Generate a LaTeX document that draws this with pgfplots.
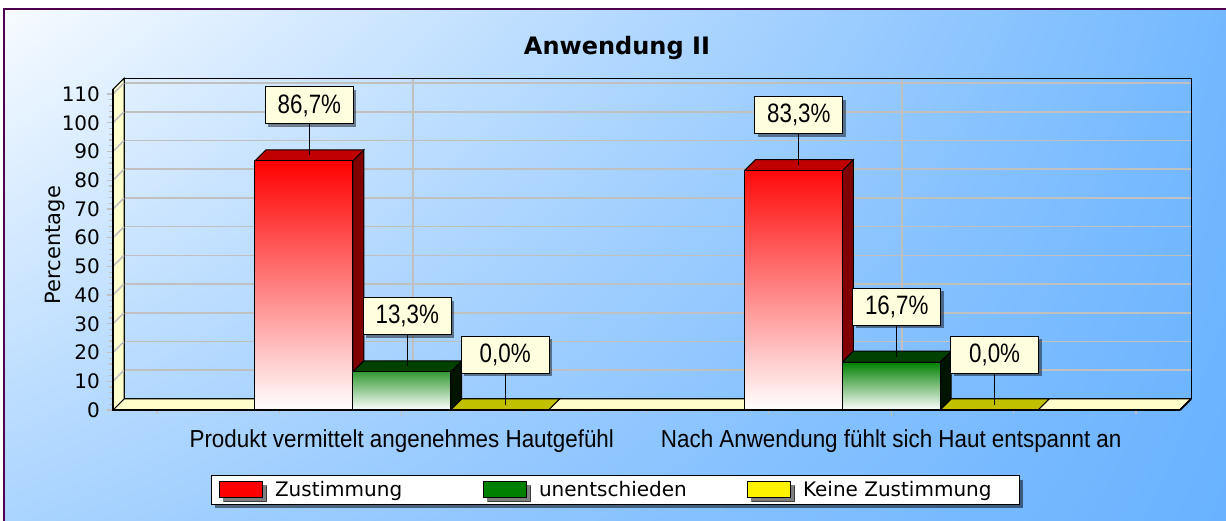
\documentclass[border=0pt]{standalone}
\usepackage{fontspec}
\setmainfont{DejaVu Sans}
\newfontfamily\narrowfont[FakeStretch=0.84]{Liberation Sans}
\newfontfamily\catfont[FakeStretch=0.91]{Liberation Sans}
\usepackage{pgfplots}
\pgfplotsset{compat=1.18}
\usetikzlibrary{shadows,shadings}

\definecolor{redtop}{RGB}{192,0,0}
\definecolor{redside}{RGB}{128,0,0}
\definecolor{greenfront}{RGB}{0,128,0}
\definecolor{greentop}{RGB}{0,64,0}
\definecolor{greenside}{RGB}{0,20,0}
\definecolor{yellowtop}{RGB}{192,192,0}
\definecolor{wallyellow}{RGB}{255,255,204}
\definecolor{labelfill}{RGB}{255,255,224}
\definecolor{gridgray}{RGB}{192,192,192}
\definecolor{framecol}{RGB}{80,0,80}
\definecolor{bgTL}{RGB}{247,251,255}
\definecolor{bgTR}{RGB}{115,184,255}
\definecolor{bgBL}{RGB}{170,212,255}
\definecolor{bgBR}{RGB}{105,178,255}

\begin{document}
\begin{tikzpicture}
\useasboundingbox (0,0) rectangle (613pt,260pt);
\fill[white] (0,0) rectangle (613pt,260pt);
\shade[upper left=bgTL, upper right=bgTR, lower left=bgBL, lower right=bgBR]
  (2pt,0pt) rectangle (613pt,255.5pt);
\draw[framecol, line width=0.6pt] (2pt,-5pt) -- (2pt,255.5pt) -- (620pt,255.5pt);

\begin{axis}[
  at={(56.5pt,55pt)}, anchor=south west,
  scale only axis, width=533.5pt, height=158pt,
  xmin=-0.59, xmax=1.59, ymin=0, ymax=110,
  clip=false,
  axis lines*=left,
  axis line style={draw=none},
  ytick={0,10,...,110},
  minor y tick num=4,
  xtick={0,1},
  minor xtick={-0.5,-0.25,0.25,0.5,0.75,1.25,1.5},
  xticklabels={Produkt vermittelt angenehmes Hautgefühl, Nach Anwendung fühlt sich Haut entspannt an},
  tick align=outside,
  major tick length=3pt, minor tick length=2pt,
  tick style={draw=gridgray, line width=0.6pt},
  /pgf/number format/assume math mode=true,
  yticklabel style={font=\fontsize{10}{12}\selectfont, anchor=east},
  xticklabel style={font=\catfont\fontsize{12.3}{14}\selectfont, anchor=base, yshift=-15.8pt},
  ylabel=Percentage,
  ylabel style={at={(axis description cs:-0.0544,0.522)}, anchor=center, font=\fontsize{10.5}{12}\selectfont},
  title=Anwendung II,
  title style={at={(axis description cs:0.4723,1.086)}, anchor=base, font=\bfseries\fontsize{12}{14}\selectfont},
  legend style={at={(0.4705,-0.253)}, anchor=center, draw=black, line width=0.5pt, fill=white,
    font=\fontsize{10}{12}\selectfont, inner xsep=4pt, inner ysep=1pt,
    nodes={inner sep=1.5pt},
    drop shadow={shadow xshift=2pt, shadow yshift=-2pt, fill=black, opacity=0.5},
    /tikz/every even column/.append style={column sep=0pt}},
  legend columns=3,
  legend cell align=left,
  legend image code/.code={\draw[#1, draw=black, line width=0.5pt] (0pt,-4pt) rectangle (21.5pt,4pt);},
]

% back wall grid
\pgfplotsinvokeforeach{10,20,...,110}{
  \draw[gridgray, line width=0.8pt] (-0.5675,{#1+3.83}) -- (1.6125,{#1+3.83});
}
\draw[gridgray, line width=0.8pt] (0.0225,3.83) -- (0.0225,115.43);
\draw[gridgray, line width=0.8pt] (1.0225,3.83) -- (1.0225,115.43);
\draw[black, line width=0.5pt] (-0.5675,3.83) rectangle (1.6125,115.43);

% floor and left wall
\draw[fill=wallyellow, line width=0.5pt] (-0.59,0) -- (1.59,0) -- (1.6125,3.83) -- (-0.5675,3.83) -- cycle;
\draw[fill=wallyellow, line width=0.5pt] (-0.59,0) -- (-0.59,111.6) -- (-0.5675,115.43) -- (-0.5675,3.83) -- cycle;
\pgfplotsinvokeforeach{10,20,...,110}{
  \draw[gridgray, line width=0.8pt] (-0.59,#1) -- (-0.5675,{#1+3.83});
}

% Zustimmung
\addplot[forget plot, fill=redside, draw=black, line width=0.5pt]
  coordinates {(-0.1,0) (-0.1,86.7) (-0.0775,90.53) (-0.0775,3.83) (-0.1,0)};
\addplot[forget plot, fill=redtop, draw=black, line width=0.5pt]
  coordinates {(-0.3,86.7) (-0.1,86.7) (-0.0775,90.53) (-0.2775,90.53) (-0.3,86.7)};
\addplot[forget plot, fill=redside, draw=black, line width=0.5pt]
  coordinates {(0.9,0) (0.9,83.3) (0.9225,87.13) (0.9225,3.83) (0.9,0)};
\addplot[forget plot, fill=redtop, draw=black, line width=0.5pt]
  coordinates {(0.7,83.3) (0.9,83.3) (0.9225,87.13) (0.7225,87.13) (0.7,83.3)};
\addplot[forget plot, ybar, bar width=0.2, bar shift=-0.2, draw=black, line width=0.5pt,
  top color=red, bottom color=white]
  coordinates {(0,86.7) (1,83.3)};

% unentschieden
\addplot[forget plot, fill=greenside, draw=black, line width=0.5pt]
  coordinates {(0.1,0) (0.1,13.3) (0.1225,17.13) (0.1225,3.83) (0.1,0)};
\addplot[forget plot, fill=greentop, draw=black, line width=0.5pt]
  coordinates {(-0.1,13.3) (0.1,13.3) (0.1225,17.13) (-0.0775,17.13) (-0.1,13.3)};
\addplot[forget plot, fill=greenside, draw=black, line width=0.5pt]
  coordinates {(1.1,0) (1.1,16.7) (1.1225,20.53) (1.1225,3.83) (1.1,0)};
\addplot[forget plot, fill=greentop, draw=black, line width=0.5pt]
  coordinates {(0.9,16.7) (1.1,16.7) (1.1225,20.53) (0.9225,20.53) (0.9,16.7)};
\addplot[forget plot, ybar, bar width=0.2, bar shift=0, draw=black, line width=0.5pt,
  top color=greenfront, bottom color=white]
  coordinates {(0,13.3) (1,16.7)};

% Keine Zustimmung
\addplot[forget plot, fill=yellowtop, draw=black, line width=0.5pt]
  coordinates {(0.1,0) (0.3,0) (0.3225,3.83) (0.1225,3.83) (0.1,0)};
\addplot[forget plot, fill=yellowtop, draw=black, line width=0.5pt]
  coordinates {(1.1,0) (1.3,0) (1.3225,3.83) (1.1225,3.83) (1.1,0)};
\addplot[forget plot, ybar, bar width=0.2, bar shift=0.2, draw=black, line width=0.5pt, fill=yellow]
  coordinates {(0,0) (1,0)};

% front edges
\draw[black, line width=1.4pt] (-0.59,111.6) -- (-0.59,0) -- (1.59,0);
\draw[black, line width=0.9pt] (1.59,0) -- (1.6125,3.83);

% value labels
\addplot[forget plot, draw=none, mark=none, point meta=y,
  nodes near coords={\pgfmathprintnumber[fixed, fixed zerofill, precision=1, use comma]{\pgfplotspointmeta}\%},
  every node near coord/.append style={
    font=\narrowfont\fontsize{13.3}{15}\selectfont, text=black,
    fill=labelfill, draw=black, line width=0.5pt,
    minimum width=44pt, minimum height=18.5pt, inner sep=0pt,
    anchor=south, xshift=2.75pt, yshift=18.25pt,
    drop shadow={shadow xshift=1.5pt, shadow yshift=-1.5pt, fill=black, opacity=0.45},
    append after command={(\tikzlastnode.south) edge[draw=black, line width=0.5pt] ++(0pt,-15.5pt)}}]
  coordinates {(-0.2,86.7) (0,13.3) (0.2,0) (0.8,83.3) (1,16.7) (1.2,0)};

\addlegendimage{fill=red}
\addlegendentry{\makebox[107pt][l]{\hspace{4.5pt}Zustimmung}}
\addlegendimage{fill=greenfront}
\addlegendentry{\makebox[107pt][l]{\hspace{4.5pt}unentschieden}}
\addlegendimage{fill=yellow}
\addlegendentry{\makebox[107pt][l]{\hspace{4.5pt}Keine Zustimmung}}
\end{axis}
\end{tikzpicture}
\end{document}
